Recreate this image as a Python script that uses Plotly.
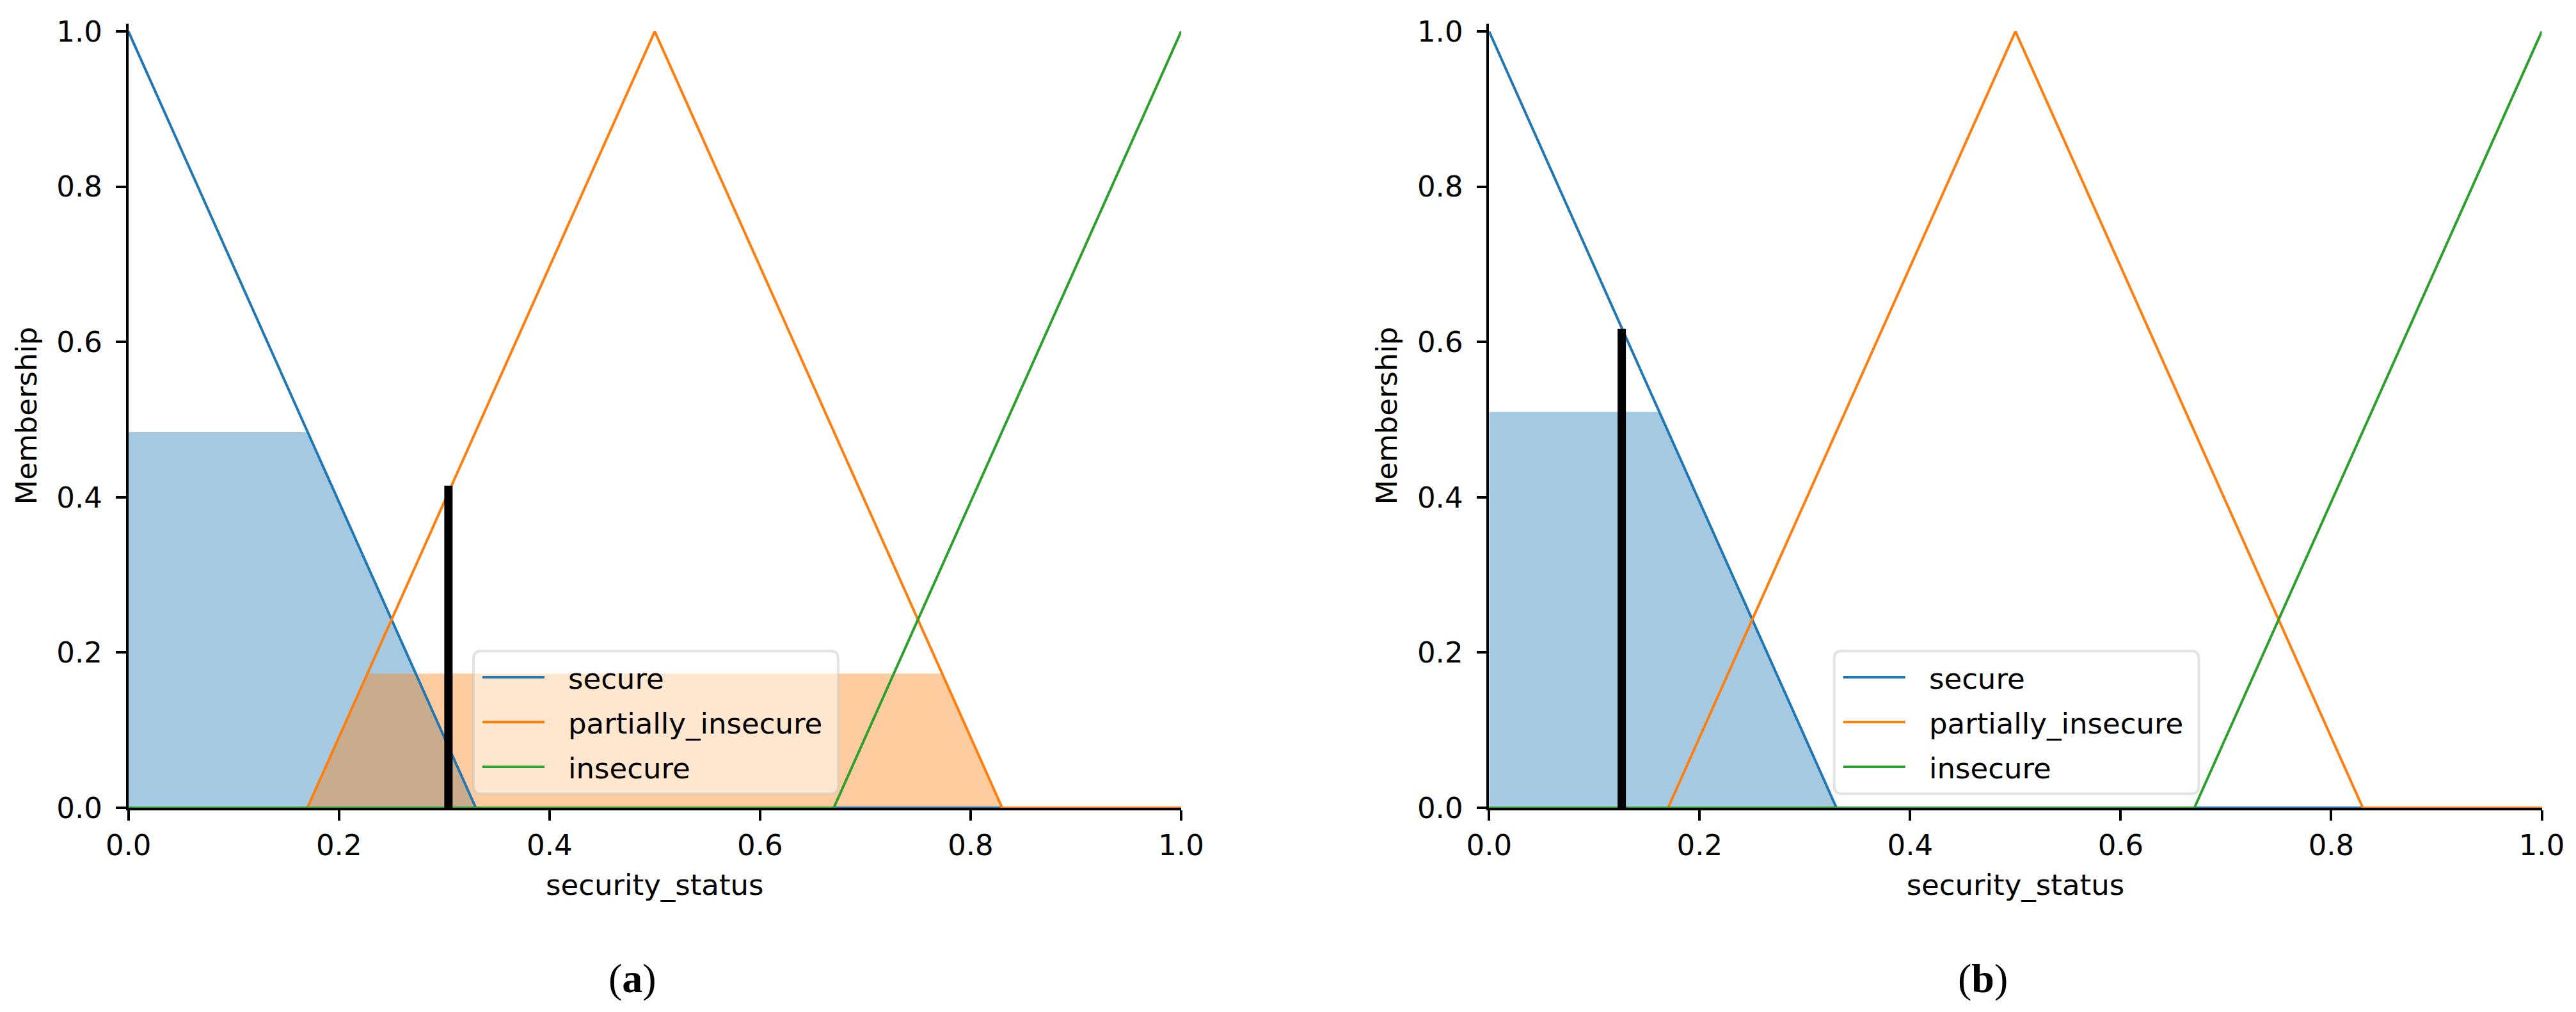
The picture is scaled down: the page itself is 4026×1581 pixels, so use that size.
import plotly.graph_objects as go

# ---------------- data ----------------
term_names = ["secure", "partially_insecure", "insecure"]
term_colors = ["#1f77b4", "#ff7f0e", "#2ca02c"]
fill_colors = ["rgba(31,119,180,0.4)", "rgba(255,127,14,0.4)", "rgba(44,160,44,0.4)"]

secure_x = [0.0, 0.33, 1.0]
secure_y = [1.0, 0.0, 0.0]
partial_x = [0.0, 0.17, 0.5, 0.83, 1.0]
partial_y = [0.0, 0.0, 1.0, 0.0, 0.0]
insecure_x = [0.0, 0.67, 1.0]
insecure_y = [0.0, 0.0, 1.0]

# activated (clipped) regions, panel (a)
fill_a_secure_x = [0.0, 0.17, 0.33, 1.0]
fill_a_secure_y = [0.484, 0.484, 0.0, 0.0]
fill_a_partial_x = [0.0, 0.17, 0.227, 0.773, 0.83, 1.0]
fill_a_partial_y = [0.0, 0.0, 0.173, 0.173, 0.0, 0.0]
# panel (b)
fill_b_secure_x = [0.0, 0.162, 0.33, 1.0]
fill_b_secure_y = [0.51, 0.51, 0.0, 0.0]

crisp_a_x = [0.304, 0.304]
crisp_a_y = [0.0, 0.415]
crisp_b_x = [0.126, 0.126]
crisp_b_y = [0.0, 0.617]

tick_vals = [0.0, 0.2, 0.4, 0.6, 0.8, 1.0]
tick_text = ["0.0", "0.2", "0.4", "0.6", "0.8", "1.0"]
panel_labels = ["(<b>a</b>)", "(<b>b</b>)"]
x_title = "security_status"
y_title = "Membership"

# ---------------- layout geometry (pixels) ----------------
W, H = 4026, 1581
def px(x):
    return x / W
def py(y):
    return 1 - y / H

FONT = "DejaVu Sans"
FS = 45

fig = go.Figure()

lines = [(secure_x, secure_y), (partial_x, partial_y), (insecure_x, insecure_y)]

panels = [
    dict(xa="x", ya="y", fills=[(fill_a_secure_x, fill_a_secure_y, 0), (fill_a_partial_x, fill_a_partial_y, 1)],
         crisp=(crisp_a_x, crisp_a_y)),
    dict(xa="x2", ya="y2", fills=[(fill_b_secure_x, fill_b_secure_y, 0)],
         crisp=(crisp_b_x, crisp_b_y)),
]

for p in panels:
    for fx, fy, ci in p["fills"]:
        fig.add_trace(go.Scatter(x=fx, y=fy, mode="lines", line=dict(width=0, color=term_colors[ci]),
                                 fill="tozeroy", fillcolor=fill_colors[ci], showlegend=False,
                                 xaxis=p["xa"], yaxis=p["ya"], hoverinfo="skip"))
    for (lx, ly), name, col in zip(lines, term_names, term_colors):
        fig.add_trace(go.Scatter(x=lx, y=ly, mode="lines", name=name, line=dict(color=col, width=4),
                                 showlegend=False, xaxis=p["xa"], yaxis=p["ya"]))
    cx, cy = p["crisp"]
    fig.add_trace(go.Scatter(x=cx, y=cy, mode="lines", line=dict(color="black", width=13),
                             showlegend=False, xaxis=p["xa"], yaxis=p["ya"], name="crisp value"))

x_domains = [[192.7 / W, 1838.0 / W], [2319.3 / W, 3964.5 / W]]
y_domain = [(H - 1254.0) / H, (H - 29.0) / H]

def xaxis(dom, anchor):
    return dict(domain=dom, anchor=anchor, range=[0, 1], showline=True, linecolor="black", linewidth=3.5,
                ticks="outside", ticklen=16, tickwidth=3.5, tickcolor="black",
                tickvals=tick_vals, ticktext=tick_text, showgrid=False, zeroline=False,
                tickfont=dict(family=FONT, size=FS, color="black"), automargin=False,
                title=dict(text=x_title, font=dict(family=FONT, size=FS, color="black"), standoff=22))

def yaxis(anchor):
    return dict(domain=y_domain, anchor=anchor, range=[0, 1.01], showline=True, linecolor="black", linewidth=3.5,
                ticks="outside", ticklen=16, tickwidth=3.5, tickcolor="black",
                tickvals=tick_vals, ticktext=tick_text, showgrid=False, zeroline=False,
                tickfont=dict(family=FONT, size=FS, color="black"), automargin=False, ticklabelstandoff=12,
                title=dict(text=y_title, font=dict(family=FONT, size=FS, color="black"), standoff=18))

shapes = []
annotations = []

# manual legends (matplotlib-style, rounded box)
legend_offsets = [0.0, 2126.6]
row_y = [1050, 1120, 1190]
for off in legend_offsets:
    x0, x1, y0, y1, r = 732 + off, 1302 + off, 1009, 1232, 12
    path = (f"M{px(x0 + r)},{py(y0)} L{px(x1 - r)},{py(y0)} Q{px(x1)},{py(y0)} {px(x1)},{py(y0 + r)} "
            f"L{px(x1)},{py(y1 - r)} Q{px(x1)},{py(y1)} {px(x1 - r)},{py(y1)} "
            f"L{px(x0 + r)},{py(y1)} Q{px(x0)},{py(y1)} {px(x0)},{py(y1 - r)} "
            f"L{px(x0)},{py(y0 + r)} Q{px(x0)},{py(y0)} {px(x0 + r)},{py(y0)} Z")
    shapes.append(dict(type="path", xref="paper", yref="paper", path=path,
                       fillcolor="rgba(255,255,255,0.5)", line=dict(color="rgba(200,200,200,0.5)", width=4),
                       layer="above"))
    for ry, name, col in zip(row_y, term_names, term_colors):
        shapes.append(dict(type="line", xref="paper", yref="paper", x0=px(746 + off), x1=px(843 + off),
                           y0=py(ry), y1=py(ry), line=dict(color=col, width=4), layer="above"))
        annotations.append(dict(xref="paper", yref="paper", x=px(878 + off), y=py(ry + 2), text=name,
                                showarrow=False, xanchor="left", yanchor="middle",
                                font=dict(family=FONT, size=FS, color="black")))

for lab, cx in zip(panel_labels, [980, 3091]):
    annotations.append(dict(xref="paper", yref="paper", x=px(cx), y=py(1520), text=lab, showarrow=False,
                            xanchor="center", yanchor="middle",
                            font=dict(family="Liberation Serif", size=64, color="black")))

fig.update_layout(
    template="none",
    width=W, height=H,
    margin=dict(l=0, r=0, t=0, b=0),
    paper_bgcolor="white", plot_bgcolor="white",
    font=dict(family=FONT, size=FS, color="black"),
    showlegend=False,
    xaxis=xaxis(x_domains[0], "y"),
    yaxis=yaxis("x"),
    xaxis2=xaxis(x_domains[1], "y2"),
    yaxis2=yaxis("x2"),
    shapes=shapes,
    annotations=annotations,
)

fig.write_html("out.html")
